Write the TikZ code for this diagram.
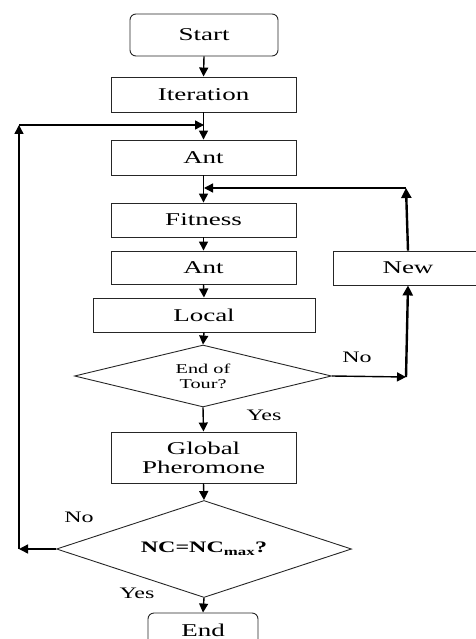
\documentclass[tikz,border=0pt]{standalone}
\usepackage{fontspec}
\setmainfont[FakeStretch=1.5]{Liberation Serif}
\usetikzlibrary{arrows.meta,shapes.geometric}

\begin{document}
\begin{tikzpicture}[x=1pt,y=-1pt,
  box/.style={draw=black!85, line width=0.9pt, rectangle, minimum width=185pt, minimum height=35pt, inner sep=0pt, font=\fontsize{18}{20}\selectfont},
  roundbox/.style={box, rounded corners=6pt},
  decide/.style={draw=black!85, line width=0.9pt, diamond, shape aspect=3, inner sep=0pt, align=center},
  flow/.style={line width=1.4pt, -{Triangle[length=9pt,width=9pt]}},
  flowthick/.style={line width=2.4pt, -{Triangle[length=10pt,width=10pt]}},
  lbl/.style={font=\fontsize{16}{18}\selectfont}]
\useasboundingbox (0,0) rectangle (475,639);
\node[roundbox, minimum width=148pt, minimum height=42pt] (start) at (204,35) {Start};
\node[box] (iter) at (203.5,94.5) {Iteration};
\node[box] (ant1) at (203.5,157.5) {Ant};
\node[box, minimum height=34pt] (fit) at (203.5,220) {Fitness};
\node[box, minimum height=33pt] (ant2) at (203.5,267.5) {Ant};
\node[box, minimum width=222pt, minimum height=34pt] (local) at (204,315) {Local};
\node[decide, minimum width=257pt, minimum height=62pt, font=\fontsize{13.5}{15}\selectfont] (tour) at (203,376) {End of\\Tour?};
\node[box, minimum width=150pt, minimum height=34pt] (new) at (408,268) {New};
\node[box, minimum height=51pt, align=center, font=\fontsize{18}{19}\selectfont] (glob) at (203.5,457.5) {Global\\Pheromone};
\node[decide, minimum width=295pt, minimum height=97pt, font=\fontsize{16}{18}\selectfont\bfseries] (nc) at (204,549) {NC=NC\textsubscript{max}?};
\node[roundbox, minimum width=110pt, minimum height=34pt] (endn) at (203,630) {End};

\coordinate (j1) at (204,125);
\coordinate (j2) at (204,188);
\coordinate (c1) at (406,377);
\coordinate (c2) at (406,188);
\coordinate (c3) at (19,549);
\coordinate (c4) at (19,125);

\draw[flow] (start.south) -- (iter.north);
\draw[flow] (iter.south) -- (ant1.north);
\draw[flow] (ant1.south) -- (fit.north);
\draw[flow] (fit.south) -- (ant2.north);
\draw[flow] (ant2.south) -- (local.north);
\draw[flow] (local.south) -- (tour.north);
\draw[flow] (tour.east) -- (c1);
\draw[flowthick] (c1) -- (new.south);
\draw[flowthick] (new.north) -- (c2);
\draw[flow] (c2) -- (j2);
\draw[flow] (tour.south) -- (glob.north);
\draw[flow] (glob.south) -- (nc.north);
\draw[flow] (nc.west) -- (c3);
\draw[flow] (c3) -- (c4);
\draw[flow] (c4) -- (j1);
\draw[flow] (nc.south) -- (endn.north);

\node[lbl] (no1) at (357,357) {No};
\node[lbl] (yes1) at (264,415) {Yes};
\node[lbl] (no2) at (79,517) {No};
\node[lbl] (yes2) at (137,593) {Yes};

\end{tikzpicture}
\end{document}
